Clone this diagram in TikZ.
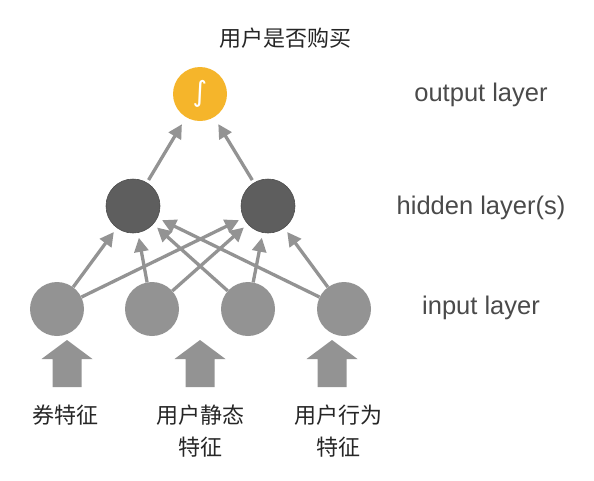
\documentclass[tikz,border=0pt]{standalone}
\usepackage{fontspec}
\setmainfont{Liberation Sans}
\newfontfamily\cjk{Noto Sans CJK SC}
\newfontfamily\symfont{DejaVu Sans}
\usetikzlibrary{arrows.meta}
\definecolor{inputgray}{HTML}{939393}
\definecolor{hiddengray}{HTML}{5E5E5E}
\definecolor{outputyellow}{HTML}{F5B52B}
\definecolor{labelgray}{HTML}{4A4A4A}
\tikzset{
  unit/.style={circle, minimum size=54pt, inner sep=0pt},
  inputunit/.style={unit, fill=inputgray},
  hiddenunit/.style={unit, fill=hiddengray, draw=black!70, line width=0.6pt},
  outputunit/.style={unit, fill=outputyellow, text=white, font=\symfont\fontsize{28}{30}\selectfont},
  link/.style={-{Triangle[length=14pt,width=14pt]}, draw=inputgray, line width=3.3pt, shorten >=5pt},
  layername/.style={text=labelgray, font=\fontsize{25.5}{28}\selectfont},
  feature/.style={align=center, text=black!85, font=\cjk\fontsize{22}{32}\selectfont},
  blockarrow/.style={fill=inputgray}
}
\begin{document}
\begin{tikzpicture}[x=1pt, y=-1pt]
        \useasboundingbox (0,0) rectangle (594,480);
        % Nodes
        \node (title) [feature] at (285,38) {用户是否购买};
        \node (out) [outputunit] at (200,94) {∫};
        \node (h1) [hiddenunit] at (133,206) {};
        \node (h2) [hiddenunit] at (268,206) {};
        \node (in1) [inputunit] at (57,309) {};
        \node (in2) [inputunit] at (152,309) {};
        \node (in3) [inputunit] at (248,309) {};
        \node (in4) [inputunit] at (344,309) {};

        % Layer names
        \node (outname) [layername] at (481,95) {output layer};
        \node (hidname) [layername] at (481,208) {hidden layer(s)};
        \node (inname) [layername] at (481,308) {input layer};

        % Features
        \node (f1) [feature] at (65,415) {券特征};
        \node (f2) [feature] at (200,431) {用户静态\\特征};
        \node (f3) [feature] at (338,431) {用户行为\\特征};

        % Edges
        \draw[link] (in1) -- (h1);
        \draw[link] (in1) -- (h2);
        \draw[link] (in2) -- (h1);
        \draw[link] (in2) -- (h2);
        \draw[link] (in3) -- (h1);
        \draw[link] (in3) -- (h2);
        \draw[link] (in4) -- (h1);
        \draw[link] (in4) -- (h2);
        \draw[link, shorten <=3pt, shorten >=8pt] (h1) -- (out);
        \draw[link, shorten <=3pt, shorten >=8pt] (h2) -- (out);

        % Block arrows
        \foreach \x in {67,200,332}
          \fill[blockarrow] (\x-14.5,387) -- (\x+14.5,387) -- (\x+14.5,359) -- (\x+25.5,359)
            -- (\x,340) -- (\x-25.5,359) -- (\x-14.5,359) -- cycle;
    \end{tikzpicture}
\end{document}
